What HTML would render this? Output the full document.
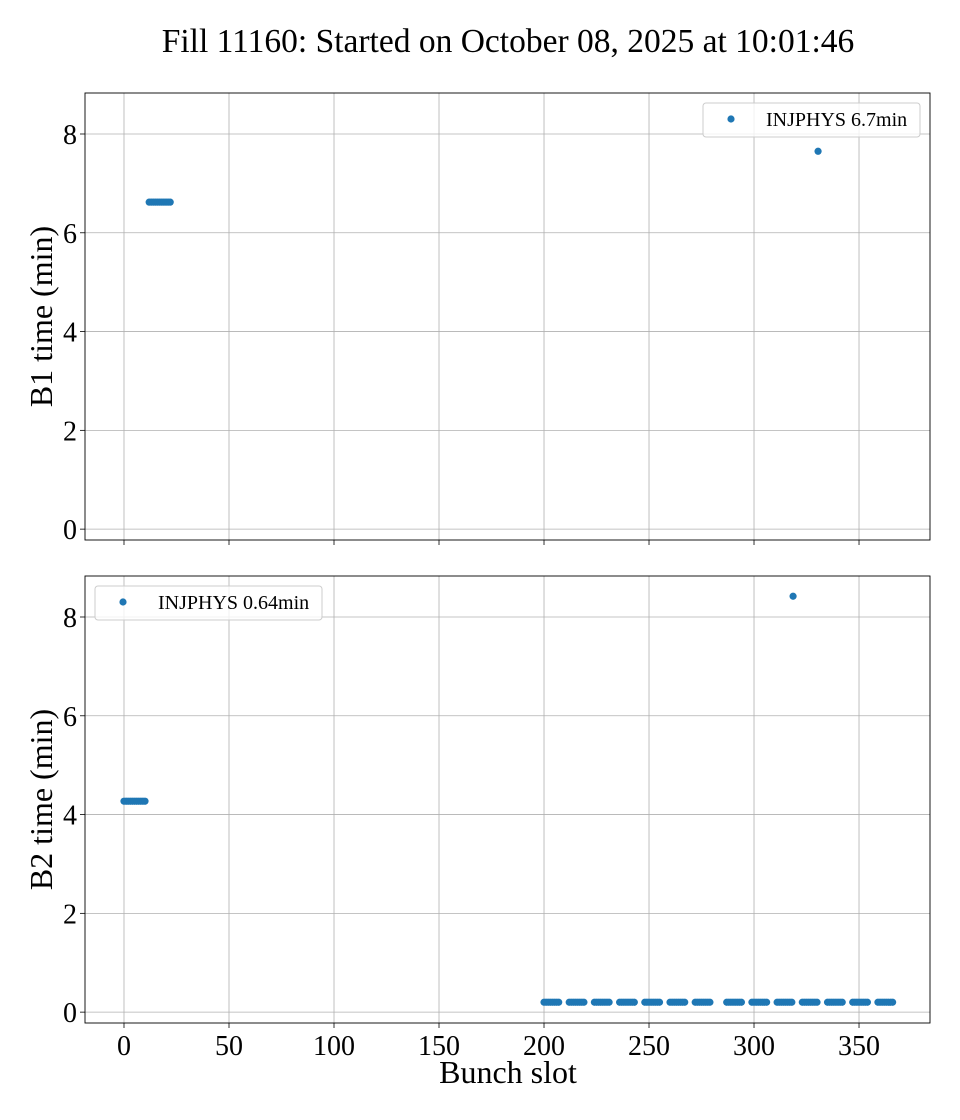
<!DOCTYPE html>
<html><head><meta charset="utf-8"><style>
html,body{margin:0;padding:0;background:#fff;}
svg{display:block;font-family:"Liberation Serif",serif;}
</style></head><body>
<svg id="chart" width="960" height="1120" xmlns="http://www.w3.org/2000/svg">
<text x="508" y="52" text-anchor="middle" font-size="33.5">Fill 11160: Started on October 08, 2025 at 10:01:46</text>
</svg>
<script>
const xTicks=[0,50,100,150,200,250,300,350];
const yTicks=[0,2,4,6,8];
const b1Slots=[12,13,14,15,16,17,18,19,20,21,22,330.5];
const b1Times=[6.62,6.62,6.62,6.62,6.62,6.62,6.62,6.62,6.62,6.62,6.62,7.65];
const b2GroupStarts=[200,212,224,236,248,260,272,287,299,311,323,335,347,359];
const b2GroupTime=0.2;
const b2LeftSlots=[0,1,2,3,4,5,6,7,8,9,10];
const b2LeftTime=4.27;
const b2Outlier=[318.6,8.42];
const b1Legend="INJPHYS 6.7min";
const b2Legend="INJPHYS 0.64min";

const NS="http://www.w3.org/2000/svg";
const svg=document.getElementById('chart');
function mk(tag,attrs,parent){const e=document.createElementNS(NS,tag);for(const k in attrs)e.setAttribute(k,attrs[k]);(parent||svg).appendChild(e);return e;}
const L=85,R=930,xmin=-18.57,xmax=383.8;
const X=v=>L+(v-xmin)/(xmax-xmin)*(R-L);

function panel(top,bottom,ymin,ymax,xs,ys,label,legendText,legendBox,name,showXLabels){
  const Y=v=>bottom-(v-ymin)/(ymax-ymin)*(bottom-top);
  const g=mk('g',{});
  
  
  xTicks.forEach(t=>{
    const l=mk('line',{x1:X(t),x2:X(t),y1:top,y2:bottom,stroke:'#b0b0b0','stroke-width':0.8},g);
    
    
    const tk=mk('line',{x1:X(t),x2:X(t),y1:bottom,y2:bottom+5,stroke:'#000','stroke-width':0.8},g);
    
    
    if(showXLabels){
      const tx=mk('text',{x:X(t),y:bottom+32,'text-anchor':'middle','font-size':28},g);
      tx.textContent=t;
      
      
    }
  });
  yTicks.forEach(t=>{
    const l=mk('line',{x1:L,x2:R,y1:Y(t),y2:Y(t),stroke:'#b0b0b0','stroke-width':0.8},g);
    
    
    const tk=mk('line',{x1:L-5,x2:L,y1:Y(t),y2:Y(t),stroke:'#000','stroke-width':0.8},g);
    
    
    const tx=mk('text',{x:L-8,y:Y(t)+10,'text-anchor':'end','font-size':28},g);
    tx.textContent=t;
    
    
  });
  xs.forEach((v,i)=>{
    const c=mk('circle',{cx:X(v),cy:Y(ys[i]),r:3.6,fill:'#1f77b4'},g);
    
    
  });
  const fr=mk('rect',{x:L,y:top,width:R-L,height:bottom-top,fill:'none',stroke:'#000','stroke-width':0.9},g);
  
  
  const yl=mk('text',{x:0,y:0,'text-anchor':'middle','font-size':32,transform:`translate(52,${(top+bottom)/2}) rotate(-90)`},g);
  yl.textContent=label;
  
  
  const lg=mk('g',{},g);
  
  
  const [lx,ly,lw,lh]=legendBox;
  mk('rect',{x:lx,y:ly,width:lw,height:lh,rx:3,fill:'#fff','fill-opacity':0.8,stroke:'#ccc','stroke-width':1},lg);
  const lc=mk('circle',{cx:lx+28,cy:ly+lh/2-1,r:3.6,fill:'#1f77b4'},lg);
  
  
  const lt=mk('text',{x:lx+63,y:ly+lh/2+6,'font-size':20},lg);
  lt.textContent=legendText;
  
  
}
panel(93,540,-0.22,8.83,b1Slots,b1Times,'B1 time (min)',b1Legend,[703,103,217,34],'b1-panel',false);
const b2x=[],b2y=[];
b2LeftSlots.forEach(s=>{b2x.push(s);b2y.push(b2LeftTime);});
b2GroupStarts.forEach(s=>{for(let k=0;k<8;k++){b2x.push(s+k);b2y.push(b2GroupTime);}});
b2x.push(b2Outlier[0]);b2y.push(b2Outlier[1]);
panel(576,1023,-0.22,8.83,b2x,b2y,'B2 time (min)',b2Legend,[95,586,227,34],'b2-panel',true);
const xl=mk('text',{x:508,y:1083,'text-anchor':'middle','font-size':32});
xl.textContent='Bunch slot';


</script>
</body></html>
